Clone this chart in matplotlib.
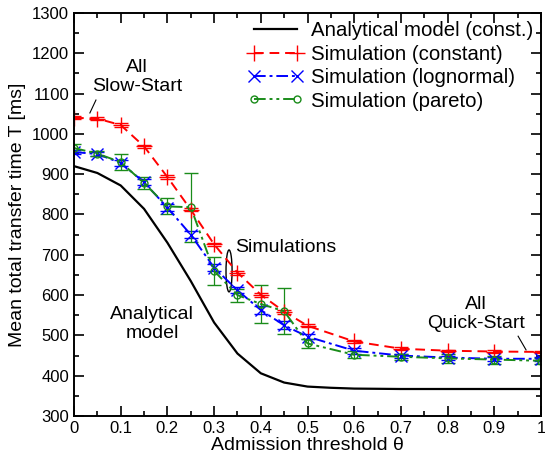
import numpy as np
import matplotlib
matplotlib.use("Agg")
import matplotlib.pyplot as plt
from matplotlib.patches import Ellipse
from matplotlib.ticker import MultipleLocator

plt.rcParams["font.family"] = ["Liberation Sans", "DejaVu Sans"]

# analytical model
thetaA = [0, 0.05, 0.1, 0.15, 0.2, 0.25, 0.3, 0.35, 0.4, 0.45, 0.5, 0.55, 0.6, 0.7, 0.8, 0.9, 1.0]
analytical = [920, 903, 872, 814, 730, 635, 532, 455, 406, 383, 373, 370, 368, 367, 367, 367, 367]

# simulations
theta = [0, 0.05, 0.1, 0.15, 0.2, 0.25, 0.3, 0.35, 0.4, 0.45, 0.5, 0.6, 0.7, 0.8, 0.9, 1.0]
simConst = [1040, 1038, 1022, 969, 893, 812, 726, 656, 601, 559, 524, 485, 467, 462, 460, 459]
errConst = [4, 4, 4, 4, 4, 4, 4, 5, 5, 5, 4, 4, 4, 3, 3, 3]
simLogn = [955, 950, 928, 880, 817, 750, 668, 612, 563, 525, 497, 462, 450, 445, 442, 442]
errLogn = [5, 5, 7, 7, 8, 8, 8, 8, 10, 10, 7, 7, 5, 5, 5, 5]
simPareto = [965, 951, 930, 878, 820, 818, 660, 600, 578, 560, 480, 452, 447, 443, 440, 437]
errPareto = [10, 6, 20, 15, 20, 85, 34, 16, 48, 57, 11, 9, 8, 12, 10, 8]

fig = plt.figure(figsize=(5.45, 4.62), dpi=100)
ax = fig.add_axes([74 / 545, 46 / 462, 467 / 545, 403 / 462])

l0, = ax.plot(thetaA, analytical, color="black", lw=1.6, label="Analytical model (const.)")
e1 = ax.errorbar(theta, simConst, yerr=errConst, color="red", ls=(0, (5, 3)), lw=1.4,
                 marker="+", ms=11, mew=1.0, capsize=5, capthick=0.8, elinewidth=0.8,
                 label="Simulation (constant)")
e2 = ax.errorbar(theta, simLogn, yerr=errLogn, color="blue", ls=(0, (6, 2, 1.5, 2)), lw=1.4,
                 marker="x", ms=8, mew=1.0, capsize=5, capthick=0.8, elinewidth=0.8,
                 label="Simulation (lognormal)")
e3 = ax.errorbar(theta, simPareto, yerr=errPareto, color="#1a8c1a", ls=(0, (6, 2, 1.5, 2, 1.5, 2)), lw=1.4,
                 marker="o", ms=5, mfc="none", mew=1.0, capsize=5, capthick=0.9, elinewidth=0.9,
                 label="Simulation (pareto)")

ax.set_xlim(0, 1)
ax.set_ylim(300, 1300)
ax.xaxis.set_major_locator(MultipleLocator(0.1))
ax.xaxis.set_minor_locator(MultipleLocator(0.05))
ax.yaxis.set_major_locator(MultipleLocator(100))
ax.yaxis.set_minor_locator(MultipleLocator(50))
ax.set_xticks(np.arange(0, 1.01, 0.1))
ax.set_xticklabels(["0", "0.1", "0.2", "0.3", "0.4", "0.5", "0.6", "0.7", "0.8", "0.9", "1"])
ax.tick_params(which="both", direction="in", top=True, right=True, labelsize=12)
ax.tick_params(which="major", length=7, width=1.2)
ax.tick_params(which="minor", length=3.5, width=1.2)
for s in ax.spines.values():
    s.set_linewidth(1.4)

ax.set_xlabel("Admission threshold θ", fontsize=14, labelpad=1)
ax.set_ylabel("Mean total transfer time T [ms]", fontsize=14, labelpad=4)

ax.legend(handles=[l0, e1[0], e2[0], e3[0]],
          labels=["Analytical model (const.)", "Simulation (constant)",
                  "Simulation (lognormal)", "Simulation (pareto)"],
          loc="upper right", frameon=False, fontsize=14.7, handlelength=2.7, numpoints=2,
          borderaxespad=0.1, borderpad=0.3, labelspacing=0.22, handletextpad=0.35)

ax.text(0.135, 1141, "All\nSlow-Start", fontsize=14, ha="center", va="center", linespacing=1.1)
ax.plot([0.047, 0.034], [1084, 1052], color="black", lw=0.8)
ax.text(0.345, 717, "Simulations", fontsize=14, ha="left", va="center")
ax.add_patch(Ellipse((0.332, 660), 0.013, 104, fill=False, ec="black", lw=1.0))
ax.text(0.167, 528, "Analytical\nmodel", fontsize=14, ha="center", va="center", linespacing=1.15)
ax.text(0.861, 553, "All\nQuick-Start", fontsize=14, ha="center", va="center", linespacing=1.15)
ax.plot([0.951, 0.968], [498, 464], color="black", lw=0.8)

fig.savefig("out.png", dpi=100)
